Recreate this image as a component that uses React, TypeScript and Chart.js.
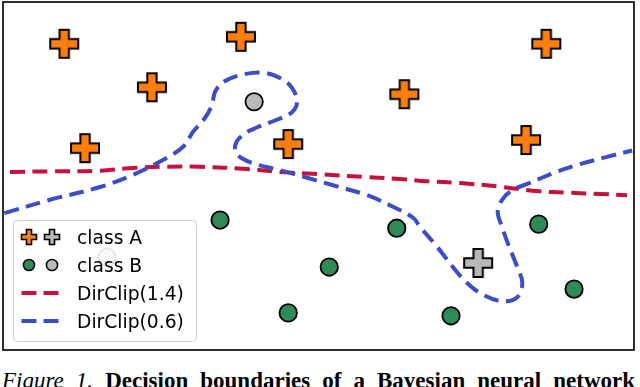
import React, { useEffect, useRef } from "react";
import { Chart, registerables } from "chart.js";

Chart.register(...registerables);

// ---- data (abstract plane units) ----
const X_RANGE = [0, 10];
const Y_RANGE = [0, 6];

const classAOrangeX = [0.97, 3.77, 2.36, 1.3, 4.52, 8.61, 6.36, 8.29];
const classAOrangeY = [5.28, 5.4, 4.53, 3.48, 3.55, 5.28, 4.41, 3.62];
const classAGrayX = [7.53];
const classAGrayY = [1.5];
const classBGreenX = [3.44, 4.52, 5.17, 6.24, 8.49, 9.05, 7.1];
const classBGreenY = [2.24, 0.64, 1.43, 2.1, 2.17, 1.05, 0.59];
const classBGrayX = [3.98, 1.65];
const classBGrayY = [4.28, 1.6];

const dirClip14X = [0.11, 0.745, 1.54, 2.06, 2.6, 3.12, 3.87, 4.39, 5.02, 5.77, 6.29, 6.72, 7.24, 7.92, 8.46, 8.99, 9.46, 9.89];
const dirClip14Y = [3.07, 3.08, 3.09, 3.14, 3.16, 3.16, 3.12, 3.07, 3.03, 2.98, 2.95, 2.91, 2.88, 2.81, 2.74, 2.71, 2.69, 2.67];

const dirClip06X = [0.02, 0.745, 1.54, 2.06, 2.54, 2.85, 3.01, 3.2, 3.31, 3.36, 3.49, 3.76, 4.12, 4.39, 4.58, 4.66, 4.58, 4.34, 4.03, 3.8, 3.68, 3.72, 3.96, 4.39, 4.82, 5.23, 5.77, 6.18, 6.5, 6.61, 6.88, 7.13, 7.35, 7.61, 7.92, 8.15, 8.23, 8.15, 8.0, 7.91, 7.84, 7.91, 8.08, 8.35, 8.72, 9.1, 9.57, 9.97];
const dirClip06Y = [2.36, 2.59, 2.81, 3.02, 3.28, 3.5, 3.76, 4.0, 4.22, 4.45, 4.62, 4.74, 4.78, 4.69, 4.52, 4.28, 4.1, 3.97, 3.84, 3.71, 3.53, 3.36, 3.22, 3.1, 2.97, 2.84, 2.67, 2.47, 2.28, 2.12, 1.78, 1.43, 1.16, 0.95, 0.84, 0.91, 1.16, 1.43, 1.84, 2.12, 2.38, 2.59, 2.76, 2.88, 3.05, 3.19, 3.33, 3.44];

const legendLabels = ["class A", "class B", "DirClip(1.4)", "DirClip(0.6)"];
const captionItalic = "Figure 1.";
const captionBold = "Decision boundaries of a Bayesian neural network";

// ---- styles ----
const ORANGE = "#ff7f0e";
const GRAY_PLUS = "#b9b9b9";
const GRAY_DOT = "#bababa";
const GREEN = "#2e8b57";
const RED = "#c8103c";
const BLUE = "#3c4ec6";

const zip = (xs: number[], ys: number[]) => xs.map((x, i) => ({ x, y: ys[i] }));

function plusPath(ctx: CanvasRenderingContext2D, cx: number, cy: number, s: number) {
  const a = s / 3;
  ctx.beginPath();
  ctx.moveTo(cx - a, cy - s);
  ctx.lineTo(cx + a, cy - s);
  ctx.lineTo(cx + a, cy - a);
  ctx.lineTo(cx + s, cy - a);
  ctx.lineTo(cx + s, cy + a);
  ctx.lineTo(cx + a, cy + a);
  ctx.lineTo(cx + a, cy + s);
  ctx.lineTo(cx - a, cy + s);
  ctx.lineTo(cx - a, cy + a);
  ctx.lineTo(cx - s, cy + a);
  ctx.lineTo(cx - s, cy - a);
  ctx.lineTo(cx - a, cy - a);
  ctx.closePath();
}

function drawPlus(ctx: CanvasRenderingContext2D, cx: number, cy: number, s: number, fill: string, lw: number) {
  plusPath(ctx, cx, cy, s);
  ctx.fillStyle = fill;
  ctx.fill();
  ctx.lineWidth = lw;
  ctx.strokeStyle = "#000";
  ctx.lineJoin = "miter";
  ctx.stroke();
}

function makePlus(fill: string, s: number, lw: number) {
  const size = Math.ceil(2 * s + 2 * lw + 2);
  const c = document.createElement("canvas");
  c.width = size;
  c.height = size;
  const ctx = c.getContext("2d")!;
  drawPlus(ctx, size / 2, size / 2, s, fill, lw);
  return c;
}

function drawDot(ctx: CanvasRenderingContext2D, cx: number, cy: number, r: number, fill: string, lw: number) {
  ctx.beginPath();
  ctx.arc(cx, cy, r, 0, Math.PI * 2);
  ctx.fillStyle = fill;
  ctx.fill();
  ctx.lineWidth = lw;
  ctx.strokeStyle = "#000";
  ctx.stroke();
}

const framePlugin = {
  id: "frame",
  afterDatasetsDraw(chart: any) {
    const { ctx, chartArea } = chart;
    ctx.save();
    ctx.strokeStyle = "#1a1a1a";
    ctx.lineWidth = 1.8;
    ctx.strokeRect(chartArea.left, chartArea.top, chartArea.right - chartArea.left, chartArea.bottom - chartArea.top);
    ctx.restore();
  },
};

const legendPlugin = {
  id: "customLegend",
  afterDraw(chart: any) {
    const { ctx, chartArea } = chart;
    const bx = chartArea.left + 10.5;
    const by = chartArea.top + 218.5;
    const bw = 183;
    const bh = 121;
    ctx.save();
    ctx.beginPath();
    (ctx as any).roundRect(bx, by, bw, bh, 4);
    ctx.fillStyle = "rgba(255,255,255,0.9)";
    ctx.fill();
    ctx.strokeStyle = "#cccccc";
    ctx.lineWidth = 1;
    ctx.stroke();

    const m1 = bx + 15.5;
    const m2 = bx + 38.5;
    const tx = bx + 63.5;
    const rowY = [237, 265, 293, 321].map((v) => v - 2 + chartArea.top);

    drawPlus(ctx, m1, rowY[0], 7.5, ORANGE, 1.6);
    drawPlus(ctx, m2, rowY[0], 7.5, GRAY_PLUS, 1.6);
    drawDot(ctx, m1, rowY[1], 5.6, GREEN, 1.5);
    drawDot(ctx, m2, rowY[1], 5.6, GRAY_DOT, 1.5);

    ctx.lineWidth = 4;
    ctx.lineCap = "butt";
    ctx.setLineDash([15, 7]);
    ctx.strokeStyle = RED;
    ctx.beginPath();
    ctx.moveTo(bx + 8, rowY[2]);
    ctx.lineTo(bx + 47, rowY[2]);
    ctx.stroke();
    ctx.strokeStyle = BLUE;
    ctx.beginPath();
    ctx.moveTo(bx + 8, rowY[3]);
    ctx.lineTo(bx + 47, rowY[3]);
    ctx.stroke();
    ctx.setLineDash([]);

    ctx.fillStyle = "#000";
    ctx.font = '18.7px "DejaVu Sans"';
    ctx.textBaseline = "alphabetic";
    ctx.textAlign = "left";
    legendLabels.forEach((lab, i) => {
      ctx.fillText(lab, tx, rowY[i] + 6.5);
    });
    ctx.restore();
  },
};

export default function App() {
  const ref = useRef<HTMLCanvasElement | null>(null);

  useEffect(() => {
    if (!ref.current) return;
    const plusOrange = makePlus(ORANGE, 14, 2);
    const plusGray = makePlus(GRAY_PLUS, 14, 2);

    const chart = new Chart(ref.current, {
      type: "scatter",
      data: {
        datasets: [
          {
            label: "DirClip(0.6)",
            data: zip(dirClip06X, dirClip06Y),
            showLine: true,
            borderColor: BLUE,
            borderWidth: 4,
            borderDash: [15, 7.5],
            tension: 0.35,
            pointRadius: 0,
            fill: false,
          },
          {
            label: "DirClip(1.4)",
            data: zip(dirClip14X, dirClip14Y),
            showLine: true,
            borderColor: RED,
            borderWidth: 4,
            borderDash: [15, 7.5],
            tension: 0.35,
            pointRadius: 0,
            fill: false,
          },
          {
            label: "class A",
            data: zip(classAOrangeX, classAOrangeY),
            pointStyle: plusOrange as any,
            pointRadius: 14,
          },
          {
            label: "class A (gray)",
            data: zip(classAGrayX, classAGrayY),
            pointStyle: plusGray as any,
            pointRadius: 14,
          },
          {
            label: "class B",
            data: zip(classBGreenX, classBGreenY),
            pointStyle: "circle",
            pointRadius: 8.7,
            borderWidth: 1.8,
            borderColor: "#000",
            backgroundColor: GREEN,
          },
          {
            label: "class B (gray)",
            data: zip(classBGrayX, classBGrayY),
            pointStyle: "circle",
            pointRadius: 8.7,
            borderWidth: 1.8,
            borderColor: "#000",
            backgroundColor: GRAY_DOT,
          },
        ],
      },
      options: {
        animation: false,
        responsive: false,
        devicePixelRatio: 1,
        layout: { autoPadding: false, padding: { left: 3, top: 2, right: 6, bottom: 3 } },
        scales: {
          x: { type: "linear", min: X_RANGE[0], max: X_RANGE[1], display: false },
          y: { type: "linear", min: Y_RANGE[0], max: Y_RANGE[1], display: false },
        },
        plugins: {
          legend: { display: false },
          tooltip: { enabled: false },
        },
        events: [],
      },
      plugins: [framePlugin, legendPlugin],
    });
    return () => chart.destroy();
  }, []);

  return (
    <div
      style={{
        position: "fixed",
        left: 0,
        top: 0,
        width: 640,
        height: 387,
        overflow: "hidden",
        background: "#fff",
      }}
    >
      <canvas ref={ref} width={640} height={353} style={{ display: "block", width: 640, height: 353 }} />
      <div
        style={{
          position: "absolute",
          left: 2,
          top: 369,
          width: 633,
          fontFamily: '"Liberation Serif", "Times New Roman", serif',
          fontSize: 23,
          lineHeight: "23px",
          color: "#000",
          textAlign: "justify",
          textAlignLast: "justify" as any,
        }}
      >
        <span style={{ fontStyle: "italic" }}>{captionItalic}</span>{" "}
        <span style={{ fontWeight: "bold" }}>{captionBold}</span>
      </div>
    </div>
  );
}
